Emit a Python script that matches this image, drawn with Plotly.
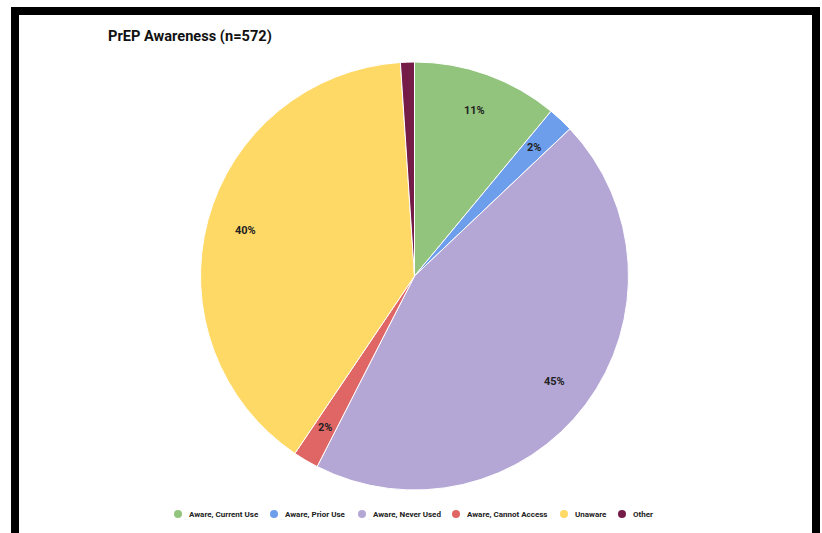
import math
import plotly.graph_objects as go

# Survey responses (n=572)
categories = ["Aware, Current Use", "Aware, Prior Use", "Aware, Never Used",
              "Aware, Cannot Access", "Unaware", "Other"]
counts = [63, 11, 255, 11, 226, 6]
colors = ["#93c47d", "#6d9eeb", "#b4a7d6", "#e06666", "#ffd966", "#741b47"]

W, H = 822, 533
CX, CY, R = 414.5, 276, 214      # pie centre and radius in pixels
LABEL_R = 0.82                   # label distance as a fraction of the radius
MIN_LABEL_SHARE = 0.015          # slices smaller than this get no label

def px(x):
    return x / W

def py(y):
    return 1 - y / H

fig = go.Figure()
fig.add_trace(go.Pie(
    labels=categories,
    values=counts,
    sort=False,
    direction="clockwise",
    rotation=0,
    marker=dict(colors=colors, line=dict(color="white", width=1)),
    textinfo="none",
    hoverinfo="label+value+percent",
    showlegend=False,
    domain=dict(x=[px(CX - R), px(CX + R)], y=[py(CY + R), py(CY - R)]),
))

# percentage labels placed at each slice's mid-angle
total = sum(counts)
annotations = []
cum = 0
for c in counts:
    share = c / total
    mid = (cum + share / 2) * 2 * math.pi
    cum += share
    if share < MIN_LABEL_SHARE:
        continue
    lx = CX + LABEL_R * R * math.sin(mid)
    ly = CY - LABEL_R * R * math.cos(mid)
    annotations.append(dict(
        x=px(lx), y=py(ly), xref="paper", yref="paper",
        text=f"<b>{round(share * 100)}%</b>", showarrow=False,
        font=dict(family="Roboto", size=11, color="#222222"),
        xanchor="center", yanchor="middle"))

# legend row along the bottom
legend_x = [178, 274, 362, 456, 564, 622]
legend_y = 514
shapes = []
for name, col, lx in zip(categories, colors, legend_x):
    shapes.append(dict(type="circle", xref="paper", yref="paper",
                       xsizemode="pixel", ysizemode="pixel",
                       xanchor=px(lx), yanchor=py(legend_y),
                       x0=-4, x1=4, y0=-4, y1=4,
                       fillcolor=col, line=dict(width=0)))
    annotations.append(dict(
        x=px(lx + 9), y=py(legend_y), xref="paper", yref="paper",
        text=f"<b>{name}</b>", showarrow=False,
        font=dict(family="Roboto", size=8, color="#222222"),
        xanchor="left", yanchor="middle"))

# black frame around the chart
shapes.append(dict(type="rect", xref="paper", yref="paper",
                   x0=px(15), x1=px(816), y0=py(537), y1=py(11),
                   line=dict(color="black", width=8), fillcolor="rgba(0,0,0,0)",
                   layer="above"))

fig.update_layout(
    width=W, height=H,
    margin=dict(l=0, r=0, t=0, b=0),
    paper_bgcolor="white",
    plot_bgcolor="white",
    title=dict(text="<b>PrEP Awareness (n=572)</b>", x=px(108), xanchor="left",
               y=py(36), yanchor="middle", xref="paper", yref="paper",
               font=dict(family="Roboto", size=14.6, color="#111111")),
    annotations=annotations,
    shapes=shapes,
)

fig.write_html("out.html")
